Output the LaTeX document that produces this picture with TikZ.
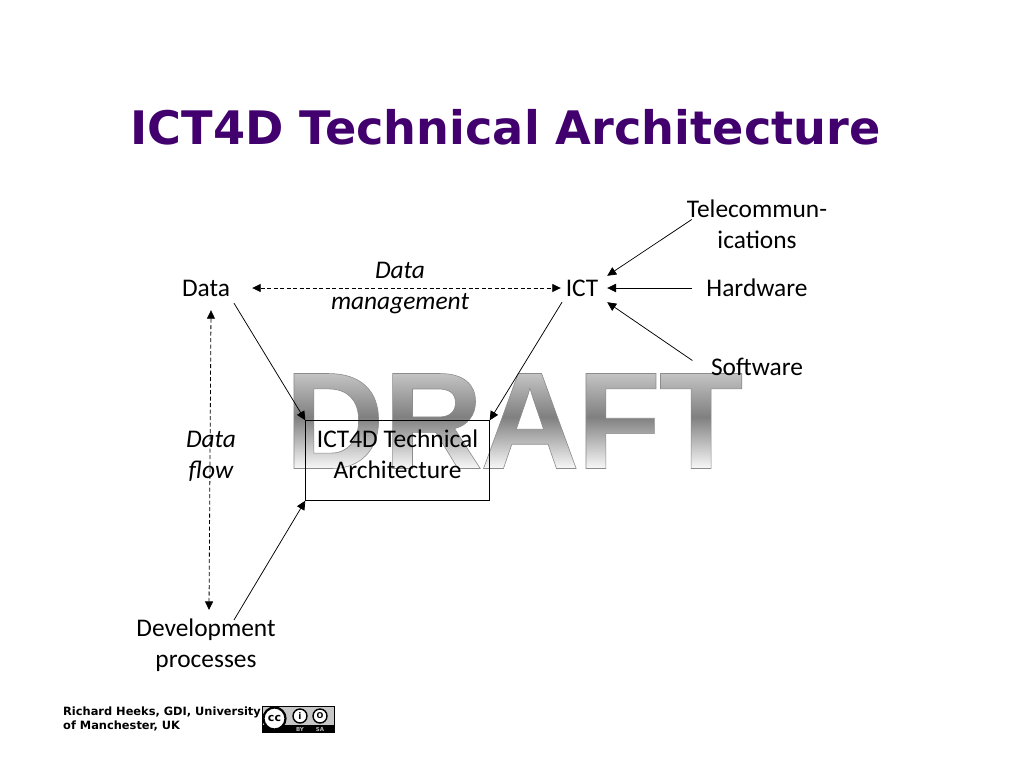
\documentclass[tikz,border=0pt]{standalone}
\usepackage{fontspec}
\setmainfont{Carlito}
\newfontfamily\titlefont{DejaVu Sans}
\newfontfamily\draftfont{Liberation Sans}
\usetikzlibrary{calc,arrows.meta}
\definecolor{titlepurple}{HTML}{42006E}
\newcommand{\draftword}{D\kern-1ptR\kern-3ptA\kern-3ptF\kern-2ptT}
\newcommand{\draftfill}{%
  \special{pdf:code q 7 Tr}\draftword\special{pdf:code 0 Tr}%
  \foreach \i in {0,...,99}{%
    \pgfmathsetmacro{\g}{\i<50 ? 0.96-0.46*\i/50 : 0.5+0.3*(\i-50)/49}%
    \special{pdf:content \g\space g -480 \i\space 480 1.3 re f}%
  }%
  \special{pdf:code Q}%
}
\tikzset{
  x=1pt,y=-1pt,
  label/.style={inner sep=0pt,align=center,text=black,font=\fontsize{25.4}{31}\selectfont},
  ital/.style={label,font=\itshape\fontsize{25.4}{31}\selectfont},
  conn/.style={draw=black,line width=0.75pt,-{Stealth[length=9pt,width=8.5pt,inset=0pt]}},
  dconn/.style={draw=black,line width=0.8pt,dash pattern=on 4pt off 2.5pt,{Stealth[length=8.5pt,width=8pt,inset=0pt]}-{Stealth[length=8.5pt,width=8pt,inset=0pt]}},
  draftstyle/.style={inner sep=0pt,font=\draftfont\bfseries\fontsize{138}{138}\selectfont},
}
\begin{document}
\begin{tikzpicture}
\useasboundingbox (0,0) rectangle (1024,768);
\fill[white] (0,0) rectangle (1024,768);
% watermark
\node[draftstyle] (draftfill) at (514,421) {\draftfill};
\node[draftstyle,text=black!45] (draft) at (514,421) {\special{pdf:code q 1 Tr 0.6 w}\draftword\special{pdf:code Q}};
% title
\node[inner sep=0pt,text=titlepurple,font=\titlefont\bfseries\fontsize{46.2}{50}\selectfont] (title) at (505.5,127) {ICT4D Technical Architecture};
% nodes
\node[label,minimum width=92pt,minimum height=30pt] (data) at (206,288) {Data};
\node[label,minimum width=50pt,minimum height=24pt] (ict) at (582,288) {ICT};
\node[label] (tele) at (757,224) {Telecommun-\\ications};
\node[label] (hard) at (757,288) {Hardware};
\node[label] (soft) at (757,366.5) {Software};
\node[ital] (mgmt) at (400,288) {Data\\management};
\node[ital] (flow) at (211,456.5) {Data\\flow};
\node[label,draw=none,minimum width=184pt,minimum height=80pt] (box) at (397.5,460.5) {};
\draw[black,line width=0.75pt] (box.north west) rectangle (box.south east);
\node[label] (boxtext) at (397.5,454.5) {ICT4D Technical\\Architecture};
\node[label] (dev) at (206,645.5) {Development\\processes};
% connectors
\draw[dconn] (data.east) -- ($(ict.west)+(4,0)$);
\draw[dconn] ($(data.south)+(5,7)$) -- ($(dev.north)+(3,-9)$);
\draw[conn] ($(data.south)+(28,0)$) -- (box.north west);
\draw[conn] ($(ict.south)+(-20,2)$) -- (box.north east);
\draw[conn] ($(dev.north)+(28,1)$) -- (box.south west);
\draw[conn] ($(tele.west)+(5,-4.5)$) -- (ict.north east);
\draw[conn] ($(hard.west)+(-14.5,0)$) -- (ict.east);
\draw[conn] ($(soft.west)+(-18.5,-6)$) -- ($(ict.south east)+(0,2)$);
% footer
\node[inner sep=0pt,align=left,anchor=north west,text=black,font=\titlefont\bfseries\fontsize{11.4}{14.5}\selectfont] (foot) at (63,706.5) {Richard Heeks, GDI, University\\of Manchester, UK};
% licence badge
\fill[black] (262,706) rectangle (335,733);
\fill[black!22] (263,707) rectangle (334,725);
\node[circle,draw=black,line width=2.2pt,fill=white,minimum size=22pt,inner sep=0pt,text=black,font=\titlefont\bfseries\fontsize{11}{11}\selectfont] (cc) at (274.5,718.5) {cc};
\node[circle,draw=black,line width=1.4pt,fill=white,minimum size=14pt,inner sep=0pt,text=black,font=\titlefont\bfseries\fontsize{9}{9}\selectfont] (by) at (300,716) {i};
\node[circle,draw=black,line width=1.4pt,fill=white,minimum size=14pt,inner sep=0pt,text=black,font=\titlefont\bfseries\fontsize{8}{8}\selectfont] (sa) at (320,716) {O};
\node[inner sep=0pt,text=black!25,font=\titlefont\bfseries\fontsize{5.5}{6}\selectfont] (bytext) at (300,729.3) {BY};
\node[inner sep=0pt,text=black!25,font=\titlefont\bfseries\fontsize{5.5}{6}\selectfont] (satext) at (320,729.3) {SA};
\end{tikzpicture}
\end{document}
